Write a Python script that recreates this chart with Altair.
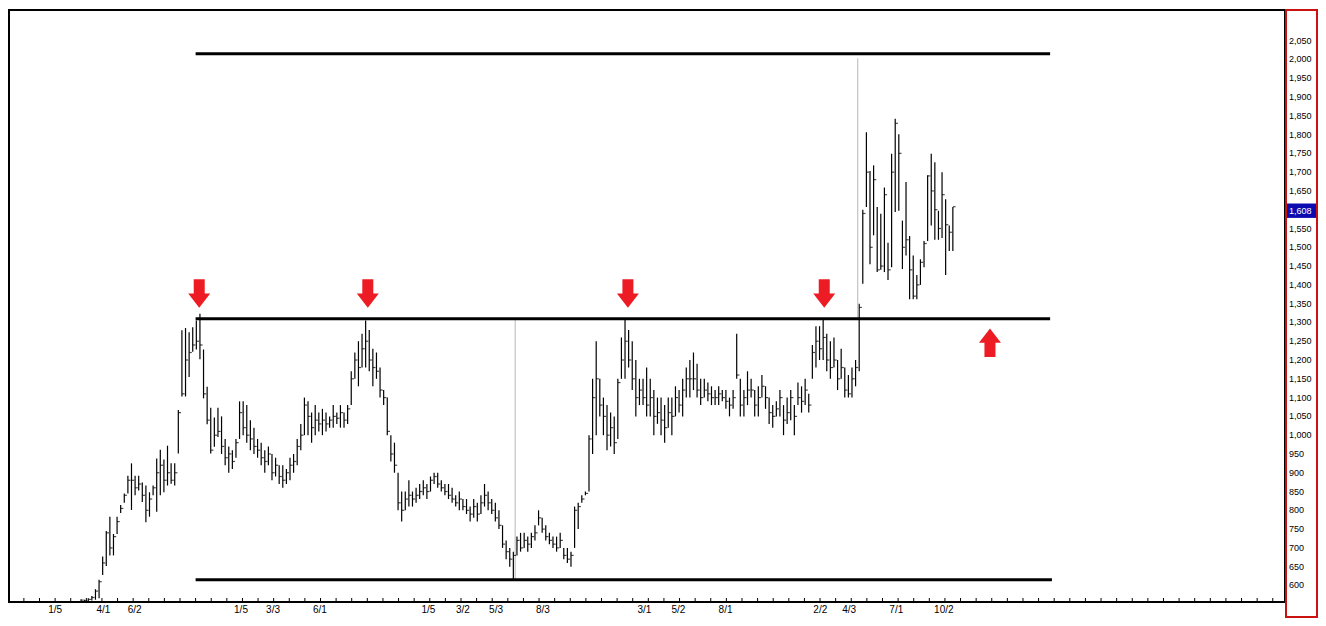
import altair as alt
import pandas as pd

# ---------------- data (weekly bars: high / low / close) ----------------
highs = [563, 562, 566, 572, 590, 615, 677, 745, 783, 737, 783, 814, 845, 892, 925, 892, 892, 874, 866, 848,
         866, 938, 961, 935, 972, 925, 925, 1067, 1279, 1285, 1274, 1287, 1305, 1323, 1228, 1129, 1073, 1047, 1073,
         1050, 990, 970, 960, 990, 1090, 1090, 1080, 1040, 1020, 990, 980, 960, 970, 950, 940, 920, 920, 910, 940,
         950, 990, 1030, 1100, 1090, 1060, 1080, 1060, 1070, 1060, 1050, 1080, 1060, 1080, 1060, 1080, 1170, 1220,
         1250, 1270, 1305, 1280, 1230, 1220, 1180, 1120, 1100, 1000, 980, 900, 850, 850, 880, 850, 860, 870, 880,
         870, 890, 900, 900, 880, 870, 870, 860, 840, 850, 830, 830, 810, 830, 820, 840, 870, 850, 830, 820, 800,
         760, 720, 700, 690, 730, 740, 740, 730, 740, 760, 800, 780, 760, 740, 730, 730, 740, 700, 700, 690, 810,
         820, 840, 850, 1000, 1150, 1250, 1150, 1100, 1080, 1060, 1050, 1150, 1260, 1310, 1280, 1250, 1200, 1150,
         1150, 1180, 1150, 1120, 1100, 1100, 1080, 1100, 1100, 1130, 1120, 1150, 1180, 1200, 1220, 1190, 1150, 1150,
         1140, 1130, 1120, 1130, 1120, 1120, 1100, 1120, 1270, 1150, 1120, 1170, 1150, 1120, 1130, 1160, 1130, 1100,
         1080, 1090, 1120, 1080, 1100, 1120, 1080, 1140, 1130, 1150, 1110, 1240, 1290, 1290, 1310, 1270, 1250, 1260,
         1200, 1230, 1180, 1160, 1180, 1200, 1350,
         1600, 1806, 1703, 1718, 1607, 1589, 1659, 1512, 1749, 1842, 1801, 1571, 1674, 1530, 1478, 1426, 1468, 1517,
         1692, 1749, 1726, 1597, 1700, 1628, 1558, 1607]
lows = [557, 556, 557, 560, 562, 566, 628, 652, 680, 680, 737, 793, 820, 845, 801, 840, 853, 822, 768, 783,
        840, 796, 840, 848, 866, 871, 866, 951, 1103, 1103, 1155, 1222, 1228, 1202, 1098, 1029, 951, 969, 995,
        950, 920, 900, 910, 940, 990, 1000, 980, 960, 950, 940, 920, 900, 920, 880, 890, 870, 860, 870, 880,
        900, 920, 960, 1000, 1000, 980, 1000, 1010, 1000, 1010, 1020, 1020, 1030, 1020, 1020, 1030, 1080, 1150,
        1130, 1180, 1180, 1170, 1130, 1150, 1100, 1080, 1000, 930, 900, 800, 770, 800, 810, 810, 820, 830, 840,
        830, 850, 870, 860, 850, 840, 830, 820, 810, 800, 800, 790, 770, 780, 770, 790, 810, 800, 790, 770, 750,
        700, 670, 650, 615, 680, 690, 700, 690, 700, 720, 760, 740, 720, 710, 700, 690, 700, 670, 660, 650, 700,
        750, 820, 840, 850, 950, 1000, 1050, 1000, 960, 970, 950, 990, 1150, 1150, 1180, 1120, 1050, 1080,
        1080, 1050, 1050, 1000, 1030, 1000, 980, 1020, 1000, 1050, 1060, 1050, 1100, 1100, 1120, 1100, 1080, 1100,
        1090, 1080, 1080, 1080, 1090, 1070, 1050, 1070, 1150, 1050, 1050, 1080, 1100, 1050, 1050, 1100, 1070, 1030,
        1020, 1050, 1050, 1000, 1030, 1040, 1000, 1080, 1060, 1080, 1060, 1150, 1180, 1200, 1200, 1170, 1150, 1180,
        1120, 1150, 1100, 1100, 1100, 1130, 1170,
        1403, 1607, 1455, 1532, 1434, 1440, 1434, 1413, 1447, 1594, 1597, 1442, 1478, 1362, 1362, 1362, 1400, 1447,
        1517, 1558, 1520, 1520, 1525, 1426, 1490, 1490]
closes = [561, 559, 563, 568, 585, 610, 660, 740, 700, 730, 770, 805, 840, 880, 880, 860, 870, 840, 800, 830,
          860, 900, 920, 880, 900, 880, 900, 1060, 1110, 1200, 1220, 1240, 1250, 1240, 1110, 1040, 960, 1000, 1010,
          970, 940, 950, 930, 980, 1060, 1020, 1000, 990, 970, 960, 940, 930, 950, 900, 920, 890, 880, 900, 920,
          930, 970, 1000, 1080, 1050, 1020, 1040, 1030, 1040, 1030, 1040, 1050, 1045, 1060, 1040, 1070, 1150, 1200,
          1180, 1230, 1250, 1200, 1180, 1170, 1120, 1100, 1010, 950, 920, 820, 800, 830, 840, 830, 840, 850, 860,
          850, 880, 890, 870, 860, 850, 840, 830, 820, 830, 810, 800, 790, 810, 790, 820, 840, 820, 800, 780, 760,
          710, 690, 670, 680, 720, 700, 720, 710, 730, 740, 780, 750, 730, 720, 710, 700, 720, 680, 670, 680, 800,
          810, 830, 845, 990, 1100, 1150, 1080, 1050, 1000, 1020, 980, 1140, 1200, 1250, 1200, 1150, 1100, 1120,
          1100, 1080, 1100, 1050, 1060, 1040, 1020, 1060, 1050, 1100, 1080, 1120, 1150, 1150, 1150, 1120, 1100, 1120,
          1110, 1100, 1100, 1110, 1100, 1090, 1080, 1100, 1160, 1080, 1100, 1120, 1120, 1080, 1100, 1130, 1100, 1060,
          1050, 1070, 1100, 1040, 1060, 1100, 1050, 1100, 1090, 1120, 1080, 1220, 1250, 1230, 1260, 1200, 1180, 1200,
          1150, 1180, 1120, 1110, 1150, 1180, 1340,
          1590, 1700, 1500, 1680, 1440, 1450, 1640, 1440, 1700, 1830, 1750, 1500, 1520, 1440, 1370, 1400, 1460, 1510,
          1690, 1650, 1600, 1550, 1640, 1560, 1540, 1608]

# x-axis labels (month/week) and their week positions
tick_labels = ["1/5", "4/1", "6/2", "1/5", "3/3", "6/1", "1/5", "3/2", "5/3", "8/3",
               "3/1", "5/2", "8/1", "2/2", "4/3", "7/1", "10/2"]
tick_pos = [-7.2, 6.2, 14.9, 44.4, 53.3, 66.3, 96.4, 106.0, 115.2, 128.2,
            156.4, 165.8, 178.9, 205.2, 213.2, 226.3, 239.5]

# price-axis labels
y_label_values = [2050, 2000, 1950, 1900, 1850, 1800, 1750, 1700, 1650, 1550, 1500, 1450, 1400,
                  1350, 1300, 1250, 1200, 1150, 1100, 1050, 1000, 950, 900, 850, 800, 750, 700, 650, 600]

# horizontal support / resistance levels
level_values = [2015, 1310, 615]
level_start = [31.8, 31.8, 31.8]
level_end = [269.0, 269.0, 269.5]

# thin grey vertical trend lines
gray_x = [120.5, 215.6]
gray_lo = [615, 1310]
gray_hi = [1310, 2003]

# red arrows
down_x = [32.8, 79.6, 151.8, 206.3]
down_y = [1377, 1377, 1377, 1377]
up_x = [252.3]
up_y = [1246]

last_price = 1608
last_label = "1,608"

# ---------------- build ----------------
n = len(highs)
df = pd.DataFrame({"i": list(range(n)), "high": highs, "low": lows, "close": closes})
labels_df = pd.DataFrame({"pos": tick_pos, "label": tick_labels})
ylab_df = pd.DataFrame({"v": y_label_values,
                        "t": [f"{v:,}" for v in y_label_values]})
levels_df = pd.DataFrame({"v": level_values, "s": level_start, "e": level_end})
gray_df = pd.DataFrame({"x": gray_x, "lo": gray_lo, "hi": gray_hi})
down_df = pd.DataFrame({"x": down_x, "y": down_y})
up_df = pd.DataFrame({"x": up_x, "y": up_y})
month_ticks = pd.DataFrame({"pos": [tick_pos[0] + k * 52 / 12 for k in range(-3, 82)]})
month_ticks = month_ticks[(month_ticks.pos > -20) & (month_ticks.pos < 334)]

W, H = 1276, 592
xs = alt.Scale(domain=[-20, 334.2], nice=False, zero=False)
ys = alt.Scale(domain=[556, 2131.5], nice=False, zero=False)

x_axis = alt.Axis(labels=False, ticks=False, grid=False, title=None, domain=True,
                  domainColor="black", domainWidth=1, minExtent=16, maxExtent=16)
y_axis = alt.Axis(orient="right", labels=False, ticks=False, grid=False, title=None,
                  domain=False, minExtent=0, maxExtent=0)

bars = alt.Chart(df).mark_rule(color="black", strokeWidth=1.2).encode(
    x=alt.X("i:Q", scale=xs, axis=x_axis),
    y=alt.Y("low:Q", scale=ys, axis=y_axis),
    y2="high:Q",
)
close_ticks = alt.Chart(df).mark_tick(orient="horizontal", size=2.6, thickness=1.2,
                                      color="black", xOffset=1.4).encode(
    x="i:Q", y="close:Q")

levels = alt.Chart(levels_df).mark_rule(color="black", strokeWidth=3).encode(
    x="s:Q", x2="e:Q", y="v:Q")
grays = alt.Chart(gray_df).mark_rule(color="#b8b8b8", strokeWidth=1).encode(
    x="x:Q", y="lo:Q", y2="hi:Q")

down_shape = "M-0.5,-1.3L0.5,-1.3L0.5,0L1,0L0,1.3L-1,0L-0.5,0Z"
up_shape = "M-0.5,1.3L0.5,1.3L0.5,0L1,0L0,-1.3L-1,0L-0.5,0Z"
downs = alt.Chart(down_df).mark_point(shape=down_shape, filled=True, color="#ed1c24",
                                      size=484, opacity=1, strokeWidth=0).encode(x="x:Q", y="y:Q")
ups = alt.Chart(up_df).mark_point(shape=up_shape, filled=True, color="#ed1c24",
                                  size=484, opacity=1, strokeWidth=0).encode(x="x:Q", y="y:Q")

mticks = alt.Chart(month_ticks).mark_rule(color="black", strokeWidth=1).encode(
    x="pos:Q", y=alt.value(H - 4), y2=alt.value(H))
xlabels = alt.Chart(labels_df).mark_text(font="Liberation Sans", fontSize=10, color="black",
                                         baseline="middle", align="center").encode(
    x="pos:Q", y=alt.value(H + 8), text="label:N")
ylabels = alt.Chart(ylab_df).mark_text(font="Liberation Sans", fontSize=9, color="black",
                                       baseline="middle", align="left").encode(
    x=alt.value(W + 4), y="v:Q", text="t:N")

one = pd.DataFrame({"a": [0]})
redbox = alt.Chart(one).mark_rect(fillOpacity=0, stroke="#cc1111", strokeWidth=2).encode(
    x=alt.value(W + 1), x2=alt.value(W + 32), y=alt.value(0), y2=alt.value(H + 15))
price_df = pd.DataFrame({"p": [last_price], "t": [last_label]})
price_box = alt.Chart(price_df).mark_point(shape="M-1,-0.48L1,-0.48L1,0.48L-1,0.48Z", filled=True,
                                           color="#0b0bb0", size=900, opacity=1, strokeWidth=0,
                                           yOffset=4).encode(
    x=alt.value(W + 17), y="p:Q")
price_text = alt.Chart(price_df).mark_text(font="Liberation Sans", fontSize=9, color="white",
                                           align="left", baseline="middle", yOffset=4).encode(
    x=alt.value(W + 4), y="p:Q", text="t:N")

chart = alt.layer(bars, mticks, grays, levels, close_ticks, downs, ups, xlabels, ylabels,
                  price_box, price_text, redbox).properties(
    width=W, height=H,
    padding={"left": 1, "top": 1, "right": 0, "bottom": 0},
    background="white",
).configure_view(stroke="black", strokeWidth=2)

chart.save("out.html", embed_options={"renderer": "svg", "actions": False})
